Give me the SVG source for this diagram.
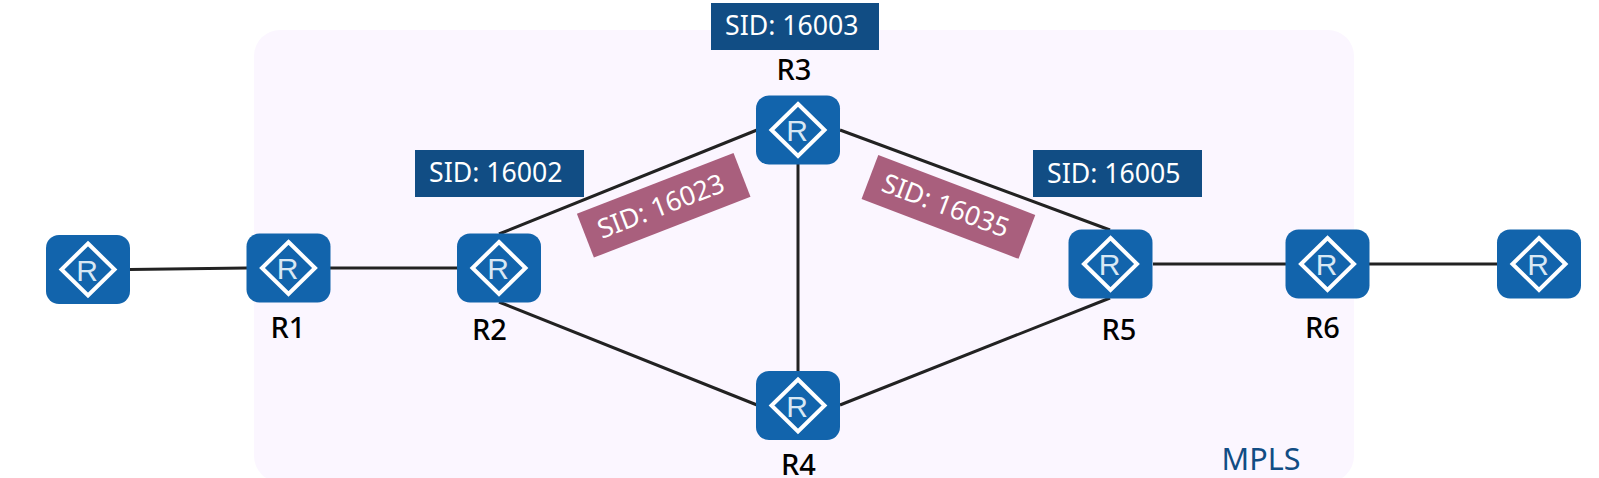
<svg xmlns="http://www.w3.org/2000/svg" width="1599" height="478" viewBox="0 0 1599 478">
<style>
text{font-family:"Noto Sans","Open Sans","Liberation Sans",sans-serif}
.box{fill:#1264ac;stroke:none}
.dia{fill:none;stroke:#fff;stroke-width:4}
.r{font-family:"Liberation Sans",Arial,sans-serif;font-size:30px;fill:#d8e8f4;text-anchor:middle}
.lbl{font-size:29px;fill:#000;text-anchor:middle;font-weight:500}
.sid{fill:#114d84}
.sidt{font-size:26.700px;fill:#fff}
.pink{fill:#a95f7d}
.pinkt{font-size:26.700px;fill:#fff;text-anchor:middle}
.c{stroke:#222;stroke-width:3;fill:none}
</style>
<rect id="mpls-region" x="254" y="30" width="1100" height="452" rx="26" fill="#fbf6ff"/>
<text id="mpls-label" x="1261" y="470" text-anchor="middle" font-size="30.500" fill="#114d84">MPLS</text>
<g id="connectors">
<line class="c" x1="130" y1="269.500" x2="247" y2="268"/>
<line class="c" x1="330" y1="268" x2="458" y2="268"/>
<line class="c" x1="499" y1="234" x2="757" y2="130"/>
<line class="c" x1="499" y1="302" x2="757" y2="405"/>
<line class="c" x1="840" y1="130" x2="1110" y2="230"/>
<line class="c" x1="840" y1="405" x2="1110" y2="298"/>
<line class="c" x1="798" y1="163" x2="798" y2="372"/>
<line class="c" x1="1153" y1="264" x2="1286" y2="264"/>
<line class="c" x1="1369" y1="264" x2="1497" y2="264"/>
</g>
<g id="n0" transform="translate(88 269.500)"><rect class="box" x="-42" y="-34.500" width="84" height="69" rx="13"/><path class="dia" d="M0-26 26.500 0 0 26-26.500 0Z"/><text class="r" x="-1" y="11">R</text></g>
<g id="R1" transform="translate(288.500 268)"><rect class="box" x="-42" y="-34.500" width="84" height="69" rx="13"/><path class="dia" d="M0-26 26.500 0 0 26-26.500 0Z"/><text class="r" x="-1" y="11">R</text></g>
<g id="R2" transform="translate(499 268)"><rect class="box" x="-42" y="-34.500" width="84" height="69" rx="13"/><path class="dia" d="M0-26 26.500 0 0 26-26.500 0Z"/><text class="r" x="-1" y="11">R</text></g>
<g id="R3" transform="translate(798 130)"><rect class="box" x="-42" y="-34.500" width="84" height="69" rx="13"/><path class="dia" d="M0-26 26.500 0 0 26-26.500 0Z"/><text class="r" x="-1" y="11">R</text></g>
<g id="R4" transform="translate(798 405.500)"><rect class="box" x="-42" y="-34.500" width="84" height="69" rx="13"/><path class="dia" d="M0-26 26.500 0 0 26-26.500 0Z"/><text class="r" x="-1" y="11">R</text></g>
<g id="R5" transform="translate(1110.500 264)"><rect class="box" x="-42" y="-34.500" width="84" height="69" rx="13"/><path class="dia" d="M0-26 26.500 0 0 26-26.500 0Z"/><text class="r" x="-1" y="11">R</text></g>
<g id="R6" transform="translate(1327.500 264)"><rect class="box" x="-42" y="-34.500" width="84" height="69" rx="13"/><path class="dia" d="M0-26 26.500 0 0 26-26.500 0Z"/><text class="r" x="-1" y="11">R</text></g>
<g id="n7" transform="translate(1539 264)"><rect class="box" x="-42" y="-34.500" width="84" height="69" rx="13"/><path class="dia" d="M0-26 26.500 0 0 26-26.500 0Z"/><text class="r" x="-1" y="11">R</text></g>
<text class="lbl" x="288" y="338">R1</text>
<text class="lbl" x="489.500" y="340">R2</text>
<text class="lbl" x="794" y="80">R3</text>
<text class="lbl" x="798.500" y="475">R4</text>
<text class="lbl" x="1119" y="340">R5</text>
<text class="lbl" x="1322.500" y="338">R6</text>
<g id="sid-16002"><rect class="sid" x="415" y="150" width="169" height="47"/><text class="sidt" x="429" y="182">SID: 16002</text></g>
<g id="sid-16003"><rect class="sid" x="711" y="3" width="168" height="47"/><text class="sidt" x="725" y="35">SID: 16003</text></g>
<g id="sid-16005"><rect class="sid" x="1033" y="150" width="169" height="47"/><text class="sidt" x="1047" y="182.500">SID: 16005</text></g>
<g id="sid-16023" transform="translate(663.700 205.300) rotate(-21.200)"><rect class="pink" x="-84" y="-23.500" width="168" height="47"/><text class="pinkt" x="-3" y="9">SID: 16023</text></g>
<g id="sid-16035" transform="translate(948.400 206.900) rotate(20.900)"><rect class="pink" x="-84" y="-23.500" width="168" height="47"/><text class="pinkt" x="-3" y="9">SID: 16035</text></g>
</svg>
